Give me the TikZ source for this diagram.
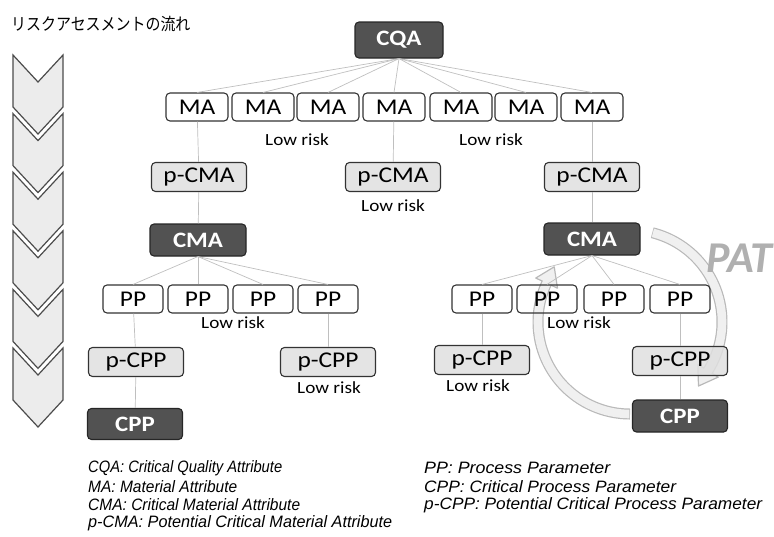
\documentclass[tikz,border=0pt]{standalone}
\usepackage{fontspec}
\usepackage{graphicx}
\setmainfont{Carlito}
\newfontfamily\legfont{Liberation Sans}
\newfontfamily\jpfont{Noto Sans CJK JP}
\usetikzlibrary{arrows.meta}
\newcommand\bt[1]{\scalebox{1.13}[1]{#1}}
\newcommand\legw[2]{\resizebox{#1pt}{\height}{#2}}
\newcommand\patarrow[2]{%
  \pgfmathsetmacro\pBx{630+92*cos(#2)}%
  \pgfmathsetmacro\pBy{322+92*sin(#2)}%
  \pgfmathsetmacro\pNx{cos(#2)}%
  \pgfmathsetmacro\pNy{sin(#2)}%
  \pgfmathsetmacro\pTx{-sin(#2)}%
  \pgfmathsetmacro\pTy{cos(#2)}%
  \draw[line width=11pt, draw=gray!55] plot[domain=#1:#2, samples=60, smooth] ({630+92*cos(\x)},{322+92*sin(\x)});
  \draw[line width=1.2pt, draw=gray!55, fill=gray!12, line join=round]
    ({\pBx+12*\pNx},{\pBy+12*\pNy}) -- ({\pBx+18*\pTx},{\pBy+18*\pTy}) -- ({\pBx-12*\pNx},{\pBy-12*\pNy}) -- cycle;
  \draw[line width=8.6pt, draw=gray!12] plot[domain=#1+0.4:#2+2, samples=60, smooth] ({630+92*cos(\x)},{322+92*sin(\x)});
}
\begin{document}
\begin{tikzpicture}[x=1pt,y=-1pt,
  box/.style={draw=black!80, line width=1.1pt, rounded corners=4pt, minimum width=62pt, minimum height=28pt, inner sep=0pt, font=\fontsize{22.5}{22.5}\selectfont},
  ppbox/.style={box, minimum width=60pt},
  pbox/.style={box, fill=gray!25, fill opacity=0.85, text opacity=1, minimum width=95pt, minimum height=29pt},
  dbox/.style={box, fill=black!68, draw=black!85, text=white, minimum width=96pt, minimum height=32pt, font=\fontsize{22}{22}\selectfont\bfseries},
  conn/.style={draw=gray!50, line width=0.7pt},
  lowrisk/.style={inner sep=0pt, font=\fontsize{17}{17}\selectfont},
  legend/.style={anchor=west, inner sep=0pt, font=\legfont\itshape\fontsize{16.5}{16.5}\selectfont},
  chev/.style={draw=black!70, line width=1.2pt, fill=gray!15, line join=miter}
]
\useasboundingbox (0,0) rectangle (774,536);
% title
\node[anchor=west, inner sep=0pt, font=\jpfont\fontsize{17}{17}\selectfont] (title) at (11,24) {\scalebox{0.88}[1]{リスクアセスメントの流れ}};
% chevrons
\foreach \i in {0,...,5}{
  \pgfmathsetmacro\yt{55+\i*58.6}
  \draw[chev] (13,\yt) -- (38,{\yt+27}) -- (63,\yt) -- (63,{\yt+52}) -- (38,{\yt+79}) -- (13,{\yt+52}) -- cycle;
}
% PAT arrows (behind boxes)
\patarrow{-76}{32}
\patarrow{90}{205}
\node[inner sep=0pt, text=gray!62, font=\fontsize{44}{44}\selectfont\bfseries\itshape] (pat) at (739,258) {PAT};
% nodes
\node[dbox, minimum width=88pt, minimum height=36pt] (cqa) at (399,40) {\bt{CQA}};
\foreach \n/\x in {1/197,2/263,3/328,4/394,5/461,6/526,7/592}{
  \node[box] (ma\n) at (\x,107) {\bt{MA}};
}
\node[lowrisk] (lr1) at (297,140) {\bt{Low risk}};
\node[lowrisk] (lr2) at (491,140) {\bt{Low risk}};
\node[pbox] (pcma1) at (199,177) {\bt{p-CMA}};
\node[pbox] (pcma2) at (393,177) {\bt{p-CMA}};
\node[lowrisk] (lr3) at (393,206) {\bt{Low risk}};
\node[pbox] (pcma3) at (592,177) {\bt{p-CMA}};
\node[dbox] (cma1) at (198,240) {\bt{CMA}};
\node[dbox] (cma2) at (592,239) {\bt{CMA}};
\foreach \n/\x in {1/133,2/198,3/263,4/328,5/482,6/547,7/614,8/680}{
  \node[ppbox] (pp\n) at (\x,299) {\bt{PP}};
}
\node[lowrisk] (lr4) at (233,323) {\bt{Low risk}};
\node[lowrisk] (lr5) at (579,323) {\bt{Low risk}};
\node[pbox] (pcpp1) at (136,362) {\bt{p-CPP}};
\node[pbox] (pcpp2) at (328,362) {\bt{p-CPP}};
\node[lowrisk] (lr6) at (329,388) {\bt{Low risk}};
\node[pbox] (pcpp3) at (482,360) {\bt{p-CPP}};
\node[lowrisk] (lr7) at (478,386) {\bt{Low risk}};
\node[pbox] (pcpp4) at (680,361) {\bt{p-CPP}};
\node[dbox, minimum width=95pt, minimum height=31pt] (cpp1) at (135,424) {\bt{CPP}};
\node[dbox, minimum width=95pt, minimum height=32pt] (cpp2) at (680,416) {\bt{CPP}};
% connectors
\foreach \n in {1,...,7}{ \draw[conn] (cqa.south) -- (ma\n.north); }
\draw[conn] (ma1) -- (pcma1);
\draw[conn] (ma4) -- (pcma2);
\draw[conn] (ma7) -- (pcma3);
\draw[conn] (pcma1) -- (cma1);
\draw[conn] (pcma3) -- (cma2);
\foreach \n in {1,...,4}{ \draw[conn] (cma1.south) -- (pp\n.north); }
\foreach \n in {5,...,8}{ \draw[conn] (cma2.south) -- (pp\n.north); }
\draw[conn] (pp1) -- (pcpp1);
\draw[conn] (pp4) -- (pcpp2);
\draw[conn] (pcpp1) -- (cpp1);
\draw[conn] (pp5) -- (pcpp3);
\draw[conn] (pp8) -- (pcpp4);
\draw[conn] (pcpp4) -- (cpp2);
% legend
\node[legend] (l1) at (88,468) {\legw{194}{CQA: Critical Quality Attribute}};
\node[legend] (l2) at (88,487) {\legw{149}{MA: Material Attribute}};
\node[legend] (l3) at (88,505) {\legw{212}{CMA: Critical Material Attribute}};
\node[legend] (l4) at (88,523) {\legw{304}{p-CMA: Potential Critical Material Attribute}};
\node[legend] (l5) at (424,468) {\legw{186}{PP: Process Parameter}};
\node[legend] (l6) at (424,487) {\legw{252}{CPP: Critical Process Parameter}};
\node[legend] (l7) at (424,505) {\legw{338}{p-CPP: Potential Critical Process Parameter}};
\end{tikzpicture}
\end{document}
